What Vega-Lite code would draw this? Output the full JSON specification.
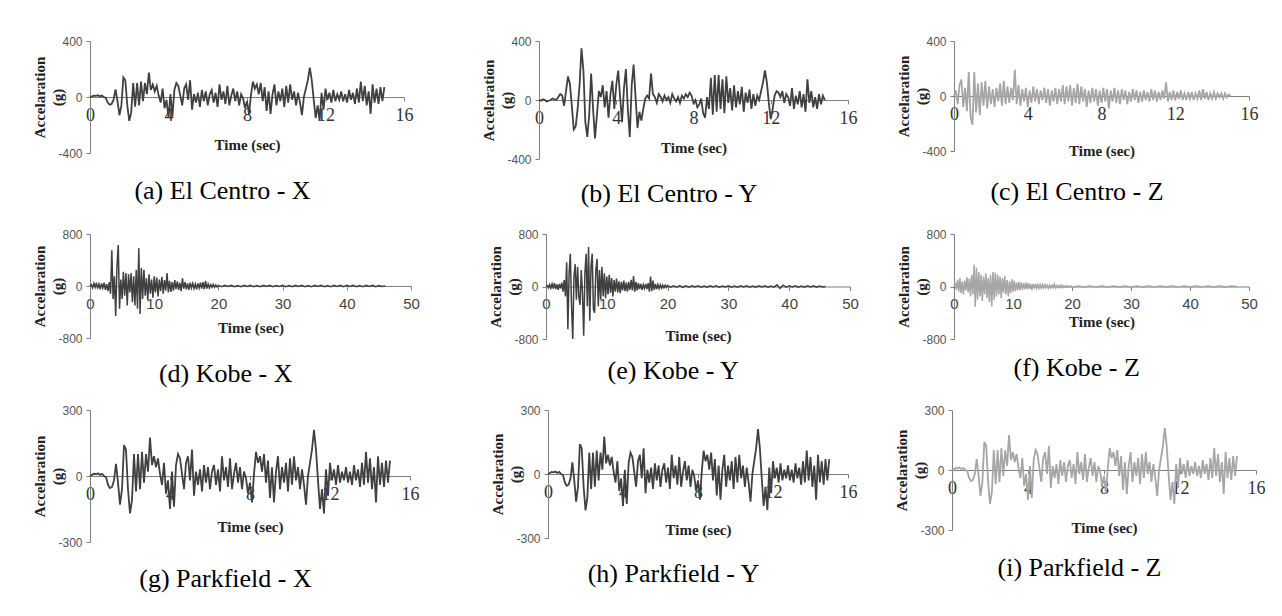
{
"$schema": "https://vega.github.io/schema/vega-lite/v6.json",
"background": "white",
"padding": {"left": 31, "top": 35, "right": 5, "bottom": 5},
"config": {"view": {"stroke": null}, "axis": {"grid": false}},
"datasets": {
"elx": [{"t":0,"v":0},{"t":0.1,"v":5},{"t":0.2,"v":10},{"t":0.3,"v":8},{"t":0.4,"v":12},{"t":0.5,"v":5},{"t":0.6,"v":10},{"t":0.7,"v":0},{"t":0.8,"v":-5},{"t":0.9,"v":-40},{"t":1.0,"v":-55},{"t":1.1,"v":-50},{"t":1.2,"v":-20},{"t":1.3,"v":55},{"t":1.4,"v":-30},{"t":1.5,"v":-130},{"t":1.6,"v":-60},{"t":1.7,"v":140},{"t":1.8,"v":120},{"t":1.9,"v":-60},{"t":2.0,"v":-170},{"t":2.1,"v":-110},{"t":2.2,"v":100},{"t":2.3,"v":-70},{"t":2.4,"v":100},{"t":2.5,"v":-60},{"t":2.6,"v":110},{"t":2.7,"v":-30},{"t":2.8,"v":100},{"t":2.9,"v":20},{"t":3.0,"v":175},{"t":3.1,"v":50},{"t":3.2,"v":90},{"t":3.3,"v":40},{"t":3.4,"v":80},{"t":3.5,"v":10},{"t":3.6,"v":-40},{"t":3.7,"v":60},{"t":3.8,"v":-80},{"t":3.9,"v":-20},{"t":4.0,"v":-150},{"t":4.1,"v":20},{"t":4.2,"v":-140},{"t":4.3,"v":50},{"t":4.4,"v":100},{"t":4.5,"v":80},{"t":4.6,"v":10},{"t":4.7,"v":-60},{"t":4.8,"v":60},{"t":4.9,"v":90},{"t":5.0,"v":-20},{"t":5.1,"v":120},{"t":5.2,"v":-90},{"t":5.3,"v":20},{"t":5.4,"v":-40},{"t":5.5,"v":30},{"t":5.6,"v":-70},{"t":5.7,"v":50},{"t":5.8,"v":-30},{"t":5.9,"v":40},{"t":6.0,"v":-60},{"t":6.1,"v":20},{"t":6.2,"v":50},{"t":6.3,"v":-40},{"t":6.4,"v":30},{"t":6.5,"v":-70},{"t":6.6,"v":90},{"t":6.7,"v":-20},{"t":6.8,"v":40},{"t":6.9,"v":-50},{"t":7.0,"v":80},{"t":7.1,"v":-60},{"t":7.2,"v":10},{"t":7.3,"v":60},{"t":7.4,"v":-30},{"t":7.5,"v":40},{"t":7.6,"v":-60},{"t":7.7,"v":20},{"t":7.8,"v":-10},{"t":7.9,"v":-80},{"t":8.0,"v":-30},{"t":8.1,"v":-120},{"t":8.2,"v":10},{"t":8.3,"v":110},{"t":8.4,"v":60},{"t":8.5,"v":90},{"t":8.6,"v":20},{"t":8.7,"v":100},{"t":8.8,"v":-30},{"t":8.9,"v":70},{"t":9.0,"v":-100},{"t":9.1,"v":40},{"t":9.2,"v":-120},{"t":9.3,"v":20},{"t":9.4,"v":90},{"t":9.5,"v":-60},{"t":9.6,"v":40},{"t":9.7,"v":-30},{"t":9.8,"v":60},{"t":9.9,"v":-70},{"t":10.0,"v":80},{"t":10.1,"v":-40},{"t":10.2,"v":90},{"t":10.3,"v":-20},{"t":10.4,"v":40},{"t":10.5,"v":-60},{"t":10.6,"v":30},{"t":10.7,"v":-40},{"t":10.8,"v":-130},{"t":10.9,"v":0},{"t":11.0,"v":60},{"t":11.1,"v":120},{"t":11.2,"v":210},{"t":11.3,"v":120},{"t":11.4,"v":-20},{"t":11.5,"v":-150},{"t":11.6,"v":-60},{"t":11.7,"v":-170},{"t":11.8,"v":30},{"t":11.9,"v":-90},{"t":12.0,"v":60},{"t":12.1,"v":-20},{"t":12.2,"v":30},{"t":12.3,"v":-40},{"t":12.4,"v":50},{"t":12.5,"v":-30},{"t":12.6,"v":20},{"t":12.7,"v":-20},{"t":12.8,"v":40},{"t":12.9,"v":-30},{"t":13.0,"v":20},{"t":13.1,"v":-40},{"t":13.2,"v":50},{"t":13.3,"v":-20},{"t":13.4,"v":30},{"t":13.5,"v":-50},{"t":13.6,"v":60},{"t":13.7,"v":-40},{"t":13.8,"v":110},{"t":13.9,"v":-30},{"t":14.0,"v":80},{"t":14.1,"v":-60},{"t":14.2,"v":40},{"t":14.3,"v":-120},{"t":14.4,"v":90},{"t":14.5,"v":-40},{"t":14.6,"v":60},{"t":14.7,"v":-50},{"t":14.8,"v":70},{"t":14.9,"v":-30},{"t":15.0,"v":70}],
"ely": [{"t":0,"v":0},{"t":0.1,"v":-5},{"t":0.2,"v":5},{"t":0.3,"v":0},{"t":0.4,"v":-10},{"t":0.5,"v":-5},{"t":0.6,"v":0},{"t":0.7,"v":10},{"t":0.8,"v":5},{"t":0.9,"v":0},{"t":1.0,"v":20},{"t":1.1,"v":40},{"t":1.2,"v":30},{"t":1.3,"v":-40},{"t":1.4,"v":60},{"t":1.5,"v":160},{"t":1.6,"v":110},{"t":1.7,"v":-40},{"t":1.8,"v":-200},{"t":1.9,"v":-180},{"t":2.0,"v":-60},{"t":2.1,"v":100},{"t":2.2,"v":350},{"t":2.3,"v":200},{"t":2.4,"v":-150},{"t":2.5,"v":-250},{"t":2.6,"v":-100},{"t":2.7,"v":180},{"t":2.8,"v":-60},{"t":2.9,"v":-260},{"t":3.0,"v":-100},{"t":3.1,"v":60},{"t":3.2,"v":20},{"t":3.3,"v":100},{"t":3.4,"v":-50},{"t":3.5,"v":60},{"t":3.6,"v":-120},{"t":3.7,"v":40},{"t":3.8,"v":130},{"t":3.9,"v":-60},{"t":4.0,"v":100},{"t":4.1,"v":200},{"t":4.2,"v":20},{"t":4.3,"v":-150},{"t":4.4,"v":80},{"t":4.5,"v":210},{"t":4.6,"v":-60},{"t":4.7,"v":-250},{"t":4.8,"v":100},{"t":4.9,"v":240},{"t":5.0,"v":20},{"t":5.1,"v":-190},{"t":5.2,"v":-80},{"t":5.3,"v":-140},{"t":5.4,"v":-60},{"t":5.5,"v":10},{"t":5.6,"v":30},{"t":5.7,"v":10},{"t":5.8,"v":180},{"t":5.9,"v":40},{"t":6.0,"v":20},{"t":6.1,"v":-20},{"t":6.2,"v":40},{"t":6.3,"v":20},{"t":6.4,"v":-10},{"t":6.5,"v":30},{"t":6.6,"v":0},{"t":6.7,"v":20},{"t":6.8,"v":-20},{"t":6.9,"v":40},{"t":7.0,"v":10},{"t":7.1,"v":-10},{"t":7.2,"v":20},{"t":7.3,"v":-20},{"t":7.4,"v":30},{"t":7.5,"v":10},{"t":7.6,"v":40},{"t":7.7,"v":20},{"t":7.8,"v":50},{"t":7.9,"v":30},{"t":8.0,"v":-20},{"t":8.1,"v":0},{"t":8.2,"v":-50},{"t":8.3,"v":-30},{"t":8.4,"v":10},{"t":8.5,"v":-90},{"t":8.6,"v":-120},{"t":8.7,"v":20},{"t":8.8,"v":-60},{"t":8.9,"v":150},{"t":9.0,"v":-100},{"t":9.1,"v":170},{"t":9.2,"v":-80},{"t":9.3,"v":170},{"t":9.4,"v":-60},{"t":9.5,"v":140},{"t":9.6,"v":-90},{"t":9.7,"v":160},{"t":9.8,"v":-20},{"t":9.9,"v":80},{"t":10.0,"v":-70},{"t":10.1,"v":100},{"t":10.2,"v":-50},{"t":10.3,"v":60},{"t":10.4,"v":-30},{"t":10.5,"v":90},{"t":10.6,"v":-80},{"t":10.7,"v":50},{"t":10.8,"v":-20},{"t":10.9,"v":70},{"t":11.0,"v":-60},{"t":11.1,"v":40},{"t":11.2,"v":-40},{"t":11.3,"v":30},{"t":11.4,"v":0},{"t":11.5,"v":60},{"t":11.6,"v":120},{"t":11.7,"v":200},{"t":11.8,"v":120},{"t":11.9,"v":-20},{"t":12.0,"v":-130},{"t":12.1,"v":-60},{"t":12.2,"v":30},{"t":12.3,"v":60},{"t":12.4,"v":50},{"t":12.5,"v":20},{"t":12.6,"v":60},{"t":12.7,"v":-20},{"t":12.8,"v":40},{"t":12.9,"v":20},{"t":13.0,"v":-40},{"t":13.1,"v":80},{"t":13.2,"v":-60},{"t":13.3,"v":30},{"t":13.4,"v":-30},{"t":13.5,"v":60},{"t":13.6,"v":-50},{"t":13.7,"v":40},{"t":13.8,"v":-80},{"t":13.9,"v":140},{"t":14.0,"v":-20},{"t":14.1,"v":60},{"t":14.2,"v":-50},{"t":14.3,"v":20},{"t":14.4,"v":-60},{"t":14.5,"v":40},{"t":14.6,"v":-30},{"t":14.7,"v":30},{"t":14.8,"v":0}],
"elz": [{"t":0,"v":0},{"t":0.1,"v":40},{"t":0.2,"v":-60},{"t":0.3,"v":80},{"t":0.4,"v":120},{"t":0.5,"v":-80},{"t":0.6,"v":60},{"t":0.7,"v":-110},{"t":0.8,"v":175},{"t":0.9,"v":-150},{"t":1.0,"v":-210},{"t":1.1,"v":175},{"t":1.2,"v":-120},{"t":1.3,"v":90},{"t":1.4,"v":-140},{"t":1.5,"v":100},{"t":1.6,"v":-70},{"t":1.7,"v":110},{"t":1.8,"v":-90},{"t":1.9,"v":70},{"t":2.0,"v":-60},{"t":2.1,"v":50},{"t":2.2,"v":-80},{"t":2.3,"v":60},{"t":2.4,"v":-40},{"t":2.5,"v":90},{"t":2.6,"v":-70},{"t":2.7,"v":110},{"t":2.8,"v":-60},{"t":2.9,"v":70},{"t":3.0,"v":-50},{"t":3.1,"v":60},{"t":3.2,"v":-30},{"t":3.3,"v":190},{"t":3.4,"v":-60},{"t":3.5,"v":80},{"t":3.6,"v":-70},{"t":3.7,"v":50},{"t":3.8,"v":-40},{"t":3.9,"v":60},{"t":4.0,"v":-80},{"t":4.1,"v":40},{"t":4.2,"v":-50},{"t":4.3,"v":70},{"t":4.4,"v":-40},{"t":4.5,"v":50},{"t":4.6,"v":-60},{"t":4.7,"v":40},{"t":4.8,"v":-30},{"t":4.9,"v":60},{"t":5.0,"v":-50},{"t":5.1,"v":50},{"t":5.2,"v":-70},{"t":5.3,"v":40},{"t":5.4,"v":-40},{"t":5.5,"v":60},{"t":5.6,"v":-60},{"t":5.7,"v":50},{"t":5.8,"v":-40},{"t":5.9,"v":80},{"t":6.0,"v":-60},{"t":6.1,"v":70},{"t":6.2,"v":-40},{"t":6.3,"v":80},{"t":6.4,"v":-70},{"t":6.5,"v":60},{"t":6.6,"v":-50},{"t":6.7,"v":90},{"t":6.8,"v":-60},{"t":6.9,"v":70},{"t":7.0,"v":-40},{"t":7.1,"v":50},{"t":7.2,"v":-80},{"t":7.3,"v":40},{"t":7.4,"v":-50},{"t":7.5,"v":60},{"t":7.6,"v":-40},{"t":7.7,"v":50},{"t":7.8,"v":-70},{"t":7.9,"v":40},{"t":8.0,"v":-50},{"t":8.1,"v":60},{"t":8.2,"v":-40},{"t":8.3,"v":50},{"t":8.4,"v":-90},{"t":8.5,"v":40},{"t":8.6,"v":-40},{"t":8.7,"v":60},{"t":8.8,"v":-50},{"t":8.9,"v":40},{"t":9.0,"v":-60},{"t":9.1,"v":50},{"t":9.2,"v":-30},{"t":9.3,"v":40},{"t":9.4,"v":-60},{"t":9.5,"v":30},{"t":9.6,"v":-40},{"t":9.7,"v":50},{"t":9.8,"v":-30},{"t":9.9,"v":40},{"t":10.0,"v":-50},{"t":10.1,"v":30},{"t":10.2,"v":-40},{"t":10.3,"v":40},{"t":10.4,"v":-30},{"t":10.5,"v":30},{"t":10.6,"v":-40},{"t":10.7,"v":50},{"t":10.8,"v":-30},{"t":10.9,"v":40},{"t":11.0,"v":-40},{"t":11.1,"v":30},{"t":11.2,"v":-30},{"t":11.3,"v":40},{"t":11.4,"v":-20},{"t":11.5,"v":100},{"t":11.6,"v":-40},{"t":11.7,"v":30},{"t":11.8,"v":-30},{"t":11.9,"v":40},{"t":12.0,"v":-30},{"t":12.1,"v":30},{"t":12.2,"v":-20},{"t":12.3,"v":40},{"t":12.4,"v":-30},{"t":12.5,"v":20},{"t":12.6,"v":-30},{"t":12.7,"v":30},{"t":12.8,"v":-20},{"t":12.9,"v":30},{"t":13.0,"v":-30},{"t":13.1,"v":20},{"t":13.2,"v":-20},{"t":13.3,"v":40},{"t":13.4,"v":-30},{"t":13.5,"v":50},{"t":13.6,"v":-20},{"t":13.7,"v":30},{"t":13.8,"v":-30},{"t":13.9,"v":20},{"t":14.0,"v":-20},{"t":14.1,"v":30},{"t":14.2,"v":-20},{"t":14.3,"v":20},{"t":14.4,"v":-10},{"t":14.5,"v":20},{"t":14.6,"v":-20},{"t":14.7,"v":20},{"t":14.8,"v":-10},{"t":14.9,"v":10},{"t":15.0,"v":0}],
"kx": [{"t":0,"v":0},{"t":0.2,"v":20},{"t":0.4,"v":-30},{"t":0.6,"v":40},{"t":0.8,"v":-20},{"t":1.0,"v":50},{"t":1.2,"v":-40},{"t":1.4,"v":30},{"t":1.6,"v":-50},{"t":1.8,"v":40},{"t":2.0,"v":-30},{"t":2.2,"v":50},{"t":2.4,"v":-60},{"t":2.6,"v":30},{"t":2.8,"v":-80},{"t":3.0,"v":60},{"t":3.2,"v":-120},{"t":3.4,"v":550},{"t":3.6,"v":-200},{"t":3.8,"v":150},{"t":4.0,"v":-460},{"t":4.2,"v":300},{"t":4.4,"v":630},{"t":4.6,"v":-350},{"t":4.8,"v":100},{"t":5.0,"v":-200},{"t":5.2,"v":220},{"t":5.4,"v":-150},{"t":5.6,"v":200},{"t":5.8,"v":-300},{"t":6.0,"v":180},{"t":6.2,"v":-100},{"t":6.4,"v":200},{"t":6.6,"v":-250},{"t":6.8,"v":150},{"t":7.0,"v":-300},{"t":7.2,"v":250},{"t":7.4,"v":-350},{"t":7.6,"v":580},{"t":7.8,"v":-430},{"t":8.0,"v":280},{"t":8.2,"v":-200},{"t":8.4,"v":250},{"t":8.6,"v":-150},{"t":8.8,"v":120},{"t":9.0,"v":-220},{"t":9.2,"v":180},{"t":9.4,"v":-120},{"t":9.6,"v":100},{"t":9.8,"v":-180},{"t":10.0,"v":150},{"t":10.2,"v":-100},{"t":10.4,"v":130},{"t":10.6,"v":-160},{"t":10.8,"v":100},{"t":11.0,"v":-80},{"t":11.2,"v":140},{"t":11.4,"v":-120},{"t":11.6,"v":90},{"t":11.8,"v":-70},{"t":12.0,"v":200},{"t":12.2,"v":-100},{"t":12.4,"v":80},{"t":12.6,"v":-90},{"t":12.8,"v":60},{"t":13.0,"v":-70},{"t":13.2,"v":90},{"t":13.4,"v":-50},{"t":13.6,"v":70},{"t":13.8,"v":-60},{"t":14.0,"v":50},{"t":14.2,"v":-80},{"t":14.4,"v":120},{"t":14.6,"v":-40},{"t":14.8,"v":60},{"t":15.0,"v":-50},{"t":15.2,"v":40},{"t":15.4,"v":-60},{"t":15.6,"v":50},{"t":15.8,"v":-30},{"t":16.0,"v":40},{"t":16.2,"v":-40},{"t":16.4,"v":30},{"t":16.6,"v":-50},{"t":16.8,"v":40},{"t":17.0,"v":-30},{"t":17.2,"v":50},{"t":17.4,"v":-40},{"t":17.6,"v":60},{"t":17.8,"v":-50},{"t":18.0,"v":80},{"t":18.2,"v":-40},{"t":18.4,"v":30},{"t":18.6,"v":-30},{"t":18.8,"v":20},{"t":19.0,"v":-20},{"t":19.2,"v":25},{"t":19.4,"v":-20},{"t":19.6,"v":15},{"t":19.8,"v":-15},{"t":20.0,"v":10},{"t":20.5,"v":-10},{"t":21,"v":12},{"t":21.5,"v":-8},{"t":22,"v":10},{"t":22.5,"v":-12},{"t":23,"v":8},{"t":23.5,"v":-10},{"t":24,"v":12},{"t":24.5,"v":-8},{"t":25,"v":10},{"t":25.5,"v":-10},{"t":26,"v":8},{"t":26.5,"v":-12},{"t":27,"v":10},{"t":27.5,"v":-8},{"t":28,"v":12},{"t":28.5,"v":-10},{"t":29,"v":8},{"t":29.5,"v":-8},{"t":30,"v":10},{"t":30.5,"v":-10},{"t":31,"v":8},{"t":31.5,"v":-12},{"t":32,"v":10},{"t":32.5,"v":-8},{"t":33,"v":10},{"t":33.5,"v":-10},{"t":34,"v":8},{"t":34.5,"v":-10},{"t":35,"v":12},{"t":35.5,"v":-8},{"t":36,"v":10},{"t":36.5,"v":-10},{"t":37,"v":8},{"t":37.5,"v":-12},{"t":38,"v":10},{"t":38.5,"v":-8},{"t":39,"v":10},{"t":39.5,"v":-10},{"t":40,"v":12},{"t":40.5,"v":-8},{"t":41,"v":10},{"t":41.5,"v":-10},{"t":42,"v":8},{"t":42.5,"v":-10},{"t":43,"v":10},{"t":43.5,"v":-8},{"t":44,"v":10},{"t":44.5,"v":-10},{"t":45,"v":8},{"t":45.5,"v":-8},{"t":46,"v":0}],
"ky": [{"t":0,"v":0},{"t":0.2,"v":15},{"t":0.4,"v":-20},{"t":0.6,"v":30},{"t":0.8,"v":-25},{"t":1.0,"v":40},{"t":1.2,"v":-30},{"t":1.4,"v":50},{"t":1.6,"v":-40},{"t":1.8,"v":30},{"t":2.0,"v":-50},{"t":2.2,"v":40},{"t":2.4,"v":-30},{"t":2.6,"v":60},{"t":2.8,"v":-80},{"t":3.0,"v":100},{"t":3.2,"v":-150},{"t":3.4,"v":370},{"t":3.6,"v":-650},{"t":3.8,"v":200},{"t":4.0,"v":500},{"t":4.2,"v":-300},{"t":4.4,"v":-800},{"t":4.6,"v":150},{"t":4.8,"v":340},{"t":5.0,"v":-200},{"t":5.2,"v":300},{"t":5.4,"v":-150},{"t":5.6,"v":-280},{"t":5.8,"v":250},{"t":6.0,"v":-100},{"t":6.2,"v":-750},{"t":6.4,"v":200},{"t":6.6,"v":500},{"t":6.8,"v":-300},{"t":7.0,"v":600},{"t":7.2,"v":-520},{"t":7.4,"v":300},{"t":7.6,"v":500},{"t":7.8,"v":-350},{"t":8.0,"v":-400},{"t":8.2,"v":250},{"t":8.4,"v":420},{"t":8.6,"v":-300},{"t":8.8,"v":250},{"t":9.0,"v":-200},{"t":9.2,"v":300},{"t":9.4,"v":-150},{"t":9.6,"v":200},{"t":9.8,"v":-180},{"t":10.0,"v":150},{"t":10.2,"v":-120},{"t":10.4,"v":180},{"t":10.6,"v":-100},{"t":10.8,"v":130},{"t":11.0,"v":-150},{"t":11.2,"v":100},{"t":11.4,"v":-80},{"t":11.6,"v":120},{"t":11.8,"v":-90},{"t":12.0,"v":80},{"t":12.2,"v":-100},{"t":12.4,"v":70},{"t":12.6,"v":-60},{"t":12.8,"v":90},{"t":13.0,"v":-70},{"t":13.2,"v":60},{"t":13.4,"v":-80},{"t":13.6,"v":70},{"t":13.8,"v":-50},{"t":14.0,"v":100},{"t":14.2,"v":-60},{"t":14.4,"v":160},{"t":14.6,"v":-80},{"t":14.8,"v":70},{"t":15.0,"v":-60},{"t":15.2,"v":50},{"t":15.4,"v":-40},{"t":15.6,"v":40},{"t":15.8,"v":-50},{"t":16.0,"v":30},{"t":16.2,"v":-30},{"t":16.4,"v":40},{"t":16.6,"v":-40},{"t":16.8,"v":50},{"t":17.0,"v":-80},{"t":17.2,"v":150},{"t":17.4,"v":-70},{"t":17.6,"v":90},{"t":17.8,"v":-50},{"t":18.0,"v":40},{"t":18.2,"v":-40},{"t":18.4,"v":30},{"t":18.6,"v":-30},{"t":18.8,"v":25},{"t":19.0,"v":-25},{"t":19.2,"v":20},{"t":19.4,"v":-20},{"t":19.6,"v":20},{"t":19.8,"v":-15},{"t":20.0,"v":15},{"t":20.5,"v":-10},{"t":21,"v":12},{"t":21.5,"v":-10},{"t":22,"v":15},{"t":22.5,"v":-12},{"t":23,"v":10},{"t":23.5,"v":-10},{"t":24,"v":12},{"t":24.5,"v":-8},{"t":25,"v":10},{"t":25.5,"v":-10},{"t":26,"v":8},{"t":26.5,"v":-10},{"t":27,"v":10},{"t":27.5,"v":-8},{"t":28,"v":10},{"t":28.5,"v":-10},{"t":29,"v":8},{"t":29.5,"v":-8},{"t":30,"v":10},{"t":30.5,"v":-10},{"t":31,"v":8},{"t":31.5,"v":-10},{"t":32,"v":10},{"t":32.5,"v":-8},{"t":33,"v":10},{"t":33.5,"v":-10},{"t":34,"v":8},{"t":34.5,"v":-10},{"t":35,"v":10},{"t":35.5,"v":-8},{"t":36,"v":10},{"t":36.5,"v":-10},{"t":37,"v":8},{"t":37.5,"v":-10},{"t":38,"v":25},{"t":38.5,"v":-30},{"t":39,"v":20},{"t":39.5,"v":-10},{"t":40,"v":10},{"t":40.5,"v":-8},{"t":41,"v":10},{"t":41.5,"v":-10},{"t":42,"v":8},{"t":42.5,"v":-10},{"t":43,"v":10},{"t":43.5,"v":-8},{"t":44,"v":10},{"t":44.5,"v":-10},{"t":45,"v":8},{"t":45.5,"v":-8},{"t":46,"v":0}],
"kz": [{"t":0,"v":0},{"t":0.2,"v":60},{"t":0.4,"v":-50},{"t":0.6,"v":100},{"t":0.8,"v":-80},{"t":1.0,"v":130},{"t":1.2,"v":-100},{"t":1.4,"v":80},{"t":1.6,"v":-120},{"t":1.8,"v":90},{"t":2.0,"v":-60},{"t":2.2,"v":140},{"t":2.4,"v":-90},{"t":2.6,"v":120},{"t":2.8,"v":-150},{"t":3.0,"v":180},{"t":3.2,"v":-120},{"t":3.4,"v":330},{"t":3.6,"v":-310},{"t":3.8,"v":290},{"t":4.0,"v":-200},{"t":4.2,"v":220},{"t":4.4,"v":-150},{"t":4.6,"v":180},{"t":4.8,"v":-220},{"t":5.0,"v":150},{"t":5.2,"v":-120},{"t":5.4,"v":200},{"t":5.6,"v":-180},{"t":5.8,"v":130},{"t":6.0,"v":-240},{"t":6.2,"v":180},{"t":6.4,"v":-300},{"t":6.6,"v":220},{"t":6.8,"v":-200},{"t":7.0,"v":210},{"t":7.2,"v":-150},{"t":7.4,"v":180},{"t":7.6,"v":-120},{"t":7.8,"v":150},{"t":8.0,"v":-180},{"t":8.2,"v":130},{"t":8.4,"v":-100},{"t":8.6,"v":160},{"t":8.8,"v":-120},{"t":9.0,"v":100},{"t":9.2,"v":-150},{"t":9.4,"v":80},{"t":9.6,"v":-100},{"t":9.8,"v":110},{"t":10.0,"v":-80},{"t":10.2,"v":90},{"t":10.4,"v":-70},{"t":10.6,"v":60},{"t":10.8,"v":-60},{"t":11.0,"v":70},{"t":11.2,"v":-50},{"t":11.4,"v":60},{"t":11.6,"v":-50},{"t":11.8,"v":50},{"t":12.0,"v":-40},{"t":12.2,"v":60},{"t":12.4,"v":-40},{"t":12.6,"v":50},{"t":12.8,"v":-40},{"t":13.0,"v":40},{"t":13.2,"v":-50},{"t":13.4,"v":40},{"t":13.6,"v":-30},{"t":13.8,"v":40},{"t":14.0,"v":-30},{"t":14.2,"v":30},{"t":14.4,"v":-30},{"t":14.6,"v":30},{"t":14.8,"v":-25},{"t":15.0,"v":30},{"t":15.2,"v":-20},{"t":15.4,"v":25},{"t":15.6,"v":-20},{"t":15.8,"v":20},{"t":16.0,"v":-25},{"t":16.2,"v":20},{"t":16.4,"v":-20},{"t":16.6,"v":20},{"t":16.8,"v":-15},{"t":17.0,"v":40},{"t":17.2,"v":-20},{"t":17.4,"v":15},{"t":17.6,"v":-15},{"t":17.8,"v":15},{"t":18.0,"v":-15},{"t":18.2,"v":20},{"t":18.4,"v":-15},{"t":18.6,"v":10},{"t":18.8,"v":-10},{"t":19.0,"v":15},{"t":19.2,"v":-10},{"t":19.4,"v":10},{"t":19.6,"v":-10},{"t":19.8,"v":10},{"t":20.0,"v":-10},{"t":21,"v":8},{"t":22,"v":-8},{"t":23,"v":8},{"t":24,"v":-8},{"t":25,"v":8},{"t":26,"v":-8},{"t":27,"v":8},{"t":28,"v":-8},{"t":29,"v":8},{"t":30,"v":-8},{"t":31,"v":8},{"t":32,"v":-8},{"t":33,"v":8},{"t":34,"v":-8},{"t":35,"v":8},{"t":36,"v":-8},{"t":37,"v":8},{"t":38,"v":-8},{"t":39,"v":8},{"t":40,"v":-8},{"t":41,"v":8},{"t":42,"v":-8},{"t":43,"v":8},{"t":44,"v":-8},{"t":45,"v":8},{"t":46,"v":-8},{"t":47,"v":8},{"t":48,"v":0}]
},
"bounds": "flush",
"spacing": 193,
"vconcat": [
{"bounds": "flush", "spacing": 135, "hconcat": [
 {"width": 314, "height": 112, "data": {"name": "elx"},
  "title": {"text": "(a) El Centro - X", "orient": "bottom", "frame": "bounds", "anchor": "middle", "font": "Liberation Serif", "fontSize": 26, "fontWeight": "normal", "color": "#000", "offset": 19},
  "mark": {"type": "line", "color": "#404040", "strokeWidth": 1.8},
  "encoding": {
   "x": {"field": "t", "type": "quantitative", "scale": {"domain": [0,16], "nice": false}, "axis": {"values": [0,4,8,12,16], "offset": -56, "title": "Time (sec)", "titleFont": "Liberation Serif", "titleFontWeight": "bold", "titleFontSize": 15, "titleColor": "#222", "titlePadding": 13, "labelFont": "Liberation Serif", "labelFontSize": 18, "labelColor": "#333", "labelPadding": 5, "tickSize": 4, "tickColor": "#7f7f7f", "domainColor": "#7f7f7f", "labelFlush": false, "labelOverlap": false}},
   "y": {"field": "v", "type": "quantitative", "scale": {"domain": [-400,400], "nice": false}, "axis": {"values": [-400,0,400], "labelExpr": "datum.value < 0 ? '-' + abs(datum.value) : '' + datum.value", "title": ["Accelaration","(g)"], "titleX": -43, "titleBaseline": "bottom", "titleFont": "Liberation Serif", "titleFontWeight": "bold", "titleFontSize": 15, "titleLineHeight": 18, "titleColor": "#222", "labelFont": "Liberation Sans", "labelFontSize": 12, "labelColor": "#555", "labelPadding": 4, "tickSize": 4, "tickColor": "#7f7f7f", "domainColor": "#7f7f7f"}}
  }},
 {"bounds": "flush", "spacing": 106, "hconcat": [
  {"width": 309, "height": 118, "data": {"name": "ely"},
   "title": {"text": "(b) El Centro - Y", "orient": "bottom", "frame": "bounds", "anchor": "middle", "font": "Liberation Serif", "fontSize": 26, "fontWeight": "normal", "color": "#000", "offset": 16},
   "mark": {"type": "line", "color": "#404040", "strokeWidth": 1.8},
   "encoding": {
    "x": {"field": "t", "type": "quantitative", "scale": {"domain": [0,16], "nice": false}, "axis": {"values": [0,4,8,12,16], "offset": -59, "title": "Time (sec)", "titleFont": "Liberation Serif", "titleFontWeight": "bold", "titleFontSize": 15, "titleColor": "#222", "titlePadding": 13, "labelFont": "Liberation Serif", "labelFontSize": 18, "labelColor": "#333", "labelPadding": 5, "tickSize": 4, "tickColor": "#7f7f7f", "domainColor": "#7f7f7f", "labelFlush": false, "labelOverlap": false}},
    "y": {"field": "v", "type": "quantitative", "scale": {"domain": [-400,400], "nice": false}, "axis": {"values": [-400,0,400], "labelExpr": "datum.value < 0 ? '-' + abs(datum.value) : '' + datum.value", "title": ["Accelaration","(g)"], "titleX": -43, "titleBaseline": "bottom", "titleFont": "Liberation Serif", "titleFontWeight": "bold", "titleFontSize": 15, "titleLineHeight": 18, "titleColor": "#222", "labelFont": "Liberation Sans", "labelFontSize": 12, "labelColor": "#555", "labelPadding": 4, "tickSize": 4, "tickColor": "#7f7f7f", "domainColor": "#7f7f7f"}}
   }},
  {"width": 295, "height": 110, "data": {"name": "elz"},
   "title": {"text": "(c) El Centro - Z", "orient": "bottom", "frame": "bounds", "anchor": "middle", "font": "Liberation Serif", "fontSize": 26, "fontWeight": "normal", "color": "#000", "offset": 21},
   "mark": {"type": "line", "color": "#a6a6a6", "strokeWidth": 1.8},
   "encoding": {
    "x": {"field": "t", "type": "quantitative", "scale": {"domain": [0,16], "nice": false}, "axis": {"values": [0,4,8,12,16], "offset": -55, "title": "Time (sec)", "titleFont": "Liberation Serif", "titleFontWeight": "bold", "titleFontSize": 15, "titleColor": "#222", "titlePadding": 20, "labelFont": "Liberation Serif", "labelFontSize": 18, "labelColor": "#333", "labelPadding": 5, "tickSize": 4, "tickColor": "#7f7f7f", "domainColor": "#7f7f7f", "labelFlush": false, "labelOverlap": false}},
    "y": {"field": "v", "type": "quantitative", "scale": {"domain": [-400,400], "nice": false}, "axis": {"values": [-400,0,400], "labelExpr": "datum.value < 0 ? '-' + abs(datum.value) : '' + datum.value", "title": ["Accelaration","(g)"], "titleX": -43, "titleBaseline": "bottom", "titleFont": "Liberation Serif", "titleFontWeight": "bold", "titleFontSize": 15, "titleLineHeight": 18, "titleColor": "#222", "labelFont": "Liberation Sans", "labelFontSize": 12, "labelColor": "#555", "labelPadding": 4, "tickSize": 4, "tickColor": "#7f7f7f", "domainColor": "#7f7f7f"}}
   }}
 ]}
]},
{"bounds": "flush", "spacing": 176, "vconcat": [
 {"bounds": "flush", "spacing": 135, "hconcat": [
  {"width": 321, "height": 104, "data": {"name": "kx"},
   "title": {"text": "(d) Kobe - X", "orient": "bottom", "frame": "bounds", "anchor": "middle", "font": "Liberation Serif", "fontSize": 26, "fontWeight": "normal", "color": "#000", "offset": 17},
   "mark": {"type": "line", "color": "#404040", "strokeWidth": 1.5},
   "encoding": {
    "x": {"field": "t", "type": "quantitative", "scale": {"domain": [0,50], "nice": false}, "axis": {"values": [0,10,20,30,40,50], "offset": -52, "title": "Time (sec)", "titleFont": "Liberation Serif", "titleFontWeight": "bold", "titleFontSize": 15, "titleColor": "#222", "titlePadding": 9, "labelFont": "Liberation Sans", "labelFontSize": 15, "labelColor": "#444", "labelPadding": 6, "tickSize": 4, "tickColor": "#7f7f7f", "domainColor": "#7f7f7f", "labelFlush": false, "labelOverlap": false}},
    "y": {"field": "v", "type": "quantitative", "scale": {"domain": [-800,800], "nice": false}, "axis": {"values": [-800,0,800], "labelExpr": "datum.value < 0 ? '-' + abs(datum.value) : '' + datum.value", "title": ["Accelaration","(g)"], "titleX": -43, "titleBaseline": "bottom", "titleFont": "Liberation Serif", "titleFontWeight": "bold", "titleFontSize": 15, "titleLineHeight": 18, "titleColor": "#222", "labelFont": "Liberation Sans", "labelFontSize": 12, "labelColor": "#555", "labelPadding": 4, "tickSize": 4, "tickColor": "#7f7f7f", "domainColor": "#7f7f7f"}}
   }},
  {"bounds": "flush", "spacing": 104, "hconcat": [
   {"width": 304, "height": 105, "data": {"name": "ky"},
    "title": {"text": "(e) Kobe - Y", "orient": "bottom", "frame": "bounds", "anchor": "middle", "font": "Liberation Serif", "fontSize": 26, "fontWeight": "normal", "color": "#000", "offset": 13},
    "mark": {"type": "line", "color": "#404040", "strokeWidth": 1.5},
    "encoding": {
     "x": {"field": "t", "type": "quantitative", "scale": {"domain": [0,50], "nice": false}, "axis": {"values": [0,10,20,30,40,50], "offset": -52.5, "title": "Time (sec)", "titleFont": "Liberation Serif", "titleFontWeight": "bold", "titleFontSize": 15, "titleColor": "#222", "titlePadding": 17, "labelFont": "Liberation Sans", "labelFontSize": 15, "labelColor": "#444", "labelPadding": 6, "tickSize": 4, "tickColor": "#7f7f7f", "domainColor": "#7f7f7f", "labelFlush": false, "labelOverlap": false}},
     "y": {"field": "v", "type": "quantitative", "scale": {"domain": [-800,800], "nice": false}, "axis": {"values": [-800,0,800], "labelExpr": "datum.value < 0 ? '-' + abs(datum.value) : '' + datum.value", "title": ["Accelaration","(g)"], "titleX": -43, "titleBaseline": "bottom", "titleFont": "Liberation Serif", "titleFontWeight": "bold", "titleFontSize": 15, "titleLineHeight": 18, "titleColor": "#222", "labelFont": "Liberation Sans", "labelFontSize": 12, "labelColor": "#555", "labelPadding": 4, "tickSize": 4, "tickColor": "#7f7f7f", "domainColor": "#7f7f7f"}}
    }},
   {"width": 295, "height": 105, "data": {"name": "kz"},
    "title": {"text": "(f) Kobe - Z", "orient": "bottom", "frame": "bounds", "anchor": "middle", "font": "Liberation Serif", "fontSize": 26, "fontWeight": "normal", "color": "#000", "offset": 10},
    "mark": {"type": "line", "color": "#a6a6a6", "strokeWidth": 1.5},
    "encoding": {
     "x": {"field": "t", "type": "quantitative", "scale": {"domain": [0,50], "nice": false}, "axis": {"values": [0,10,20,30,40,50], "offset": -52.5, "title": "Time (sec)", "titleFont": "Liberation Serif", "titleFontWeight": "bold", "titleFontSize": 15, "titleColor": "#222", "titlePadding": 3, "labelFont": "Liberation Sans", "labelFontSize": 15, "labelColor": "#444", "labelPadding": 6, "tickSize": 4, "tickColor": "#7f7f7f", "domainColor": "#7f7f7f", "labelFlush": false, "labelOverlap": false}},
     "y": {"field": "v", "type": "quantitative", "scale": {"domain": [-800,800], "nice": false}, "axis": {"values": [-800,0,800], "labelExpr": "datum.value < 0 ? '-' + abs(datum.value) : '' + datum.value", "title": ["Accelaration","(g)"], "titleX": -43, "titleBaseline": "bottom", "titleFont": "Liberation Serif", "titleFontWeight": "bold", "titleFontSize": 15, "titleLineHeight": 18, "titleColor": "#222", "labelFont": "Liberation Sans", "labelFontSize": 12, "labelColor": "#555", "labelPadding": 4, "tickSize": 4, "tickColor": "#7f7f7f", "domainColor": "#7f7f7f"}}
    }}
  ]}
 ]},
 {"bounds": "flush", "spacing": 138, "hconcat": [
  {"width": 320, "height": 132, "data": {"name": "elx"},
   "title": {"text": "(g) Parkfield - X", "orient": "bottom", "frame": "bounds", "anchor": "middle", "font": "Liberation Serif", "fontSize": 26, "fontWeight": "normal", "color": "#000", "offset": 18},
   "mark": {"type": "line", "color": "#404040", "strokeWidth": 1.8},
   "encoding": {
    "x": {"field": "t", "type": "quantitative", "scale": {"domain": [0,16], "nice": false}, "axis": {"values": [0,4,8,12,16], "offset": -66, "title": "Time (sec)", "titleFont": "Liberation Serif", "titleFontWeight": "bold", "titleFontSize": 15, "titleColor": "#222", "titlePadding": 16, "labelFont": "Liberation Serif", "labelFontSize": 18, "labelColor": "#333", "labelPadding": 5, "tickSize": 4, "tickColor": "#7f7f7f", "domainColor": "#7f7f7f", "labelFlush": false, "labelOverlap": false}},
    "y": {"field": "v", "type": "quantitative", "scale": {"domain": [-300,300], "nice": false}, "axis": {"values": [-300,0,300], "labelExpr": "datum.value < 0 ? '-' + abs(datum.value) : '' + datum.value", "title": ["Accelaration","(g)"], "titleX": -43, "titleBaseline": "bottom", "titleFont": "Liberation Serif", "titleFontWeight": "bold", "titleFontSize": 15, "titleLineHeight": 18, "titleColor": "#222", "labelFont": "Liberation Sans", "labelFontSize": 12, "labelColor": "#555", "labelPadding": 4, "tickSize": 4, "tickColor": "#7f7f7f", "domainColor": "#7f7f7f"}}
   }},
  {"bounds": "flush", "spacing": 104, "hconcat": [
   {"width": 300, "height": 128, "data": {"name": "elx"},
    "title": {"text": "(h) Parkfield - Y", "orient": "bottom", "frame": "bounds", "anchor": "middle", "font": "Liberation Serif", "fontSize": 26, "fontWeight": "normal", "color": "#000", "offset": 17},
    "mark": {"type": "line", "color": "#404040", "strokeWidth": 1.8},
    "encoding": {
     "x": {"field": "t", "type": "quantitative", "scale": {"domain": [0,16], "nice": false}, "axis": {"values": [0,4,8,12,16], "offset": -64, "title": "Time (sec)", "titleFont": "Liberation Serif", "titleFontWeight": "bold", "titleFontSize": 15, "titleColor": "#222", "titlePadding": 21, "labelFont": "Liberation Serif", "labelFontSize": 18, "labelColor": "#333", "labelPadding": 5, "tickSize": 4, "tickColor": "#7f7f7f", "domainColor": "#7f7f7f", "labelFlush": false, "labelOverlap": false}},
     "y": {"field": "v", "type": "quantitative", "scale": {"domain": [-300,300], "nice": false}, "axis": {"values": [-300,0,300], "labelExpr": "datum.value < 0 ? '-' + abs(datum.value) : '' + datum.value", "title": ["Accelaration","(g)"], "titleX": -43, "titleBaseline": "bottom", "titleFont": "Liberation Serif", "titleFontWeight": "bold", "titleFontSize": 15, "titleLineHeight": 18, "titleColor": "#222", "labelFont": "Liberation Sans", "labelFontSize": 12, "labelColor": "#555", "labelPadding": 4, "tickSize": 4, "tickColor": "#7f7f7f", "domainColor": "#7f7f7f"}}
    }},
   {"width": 304, "height": 120, "data": {"name": "elx"},
    "title": {"text": "(i) Parkfield - Z", "orient": "bottom", "frame": "bounds", "anchor": "middle", "font": "Liberation Serif", "fontSize": 26, "fontWeight": "normal", "color": "#000", "offset": 19},
    "mark": {"type": "line", "color": "#a6a6a6", "strokeWidth": 1.8},
    "encoding": {
     "x": {"field": "t", "type": "quantitative", "scale": {"domain": [0,16], "nice": false}, "axis": {"values": [0,4,8,12,16], "offset": -60, "title": "Time (sec)", "titleFont": "Liberation Serif", "titleFontWeight": "bold", "titleFontSize": 15, "titleColor": "#222", "titlePadding": 23, "labelFont": "Liberation Serif", "labelFontSize": 18, "labelColor": "#333", "labelPadding": 5, "tickSize": 4, "tickColor": "#7f7f7f", "domainColor": "#7f7f7f", "labelFlush": false, "labelOverlap": false}},
     "y": {"field": "v", "type": "quantitative", "scale": {"domain": [-300,300], "nice": false}, "axis": {"values": [-300,0,300], "labelExpr": "datum.value < 0 ? '-' + abs(datum.value) : '' + datum.value", "title": ["Accelaration","(g)"], "titleX": -43, "titleBaseline": "bottom", "titleFont": "Liberation Serif", "titleFontWeight": "bold", "titleFontSize": 15, "titleLineHeight": 18, "titleColor": "#222", "labelFont": "Liberation Sans", "labelFontSize": 12, "labelColor": "#555", "labelPadding": 4, "tickSize": 4, "tickColor": "#7f7f7f", "domainColor": "#7f7f7f"}}
    }}
  ]}
 ]}
]}
]
}
